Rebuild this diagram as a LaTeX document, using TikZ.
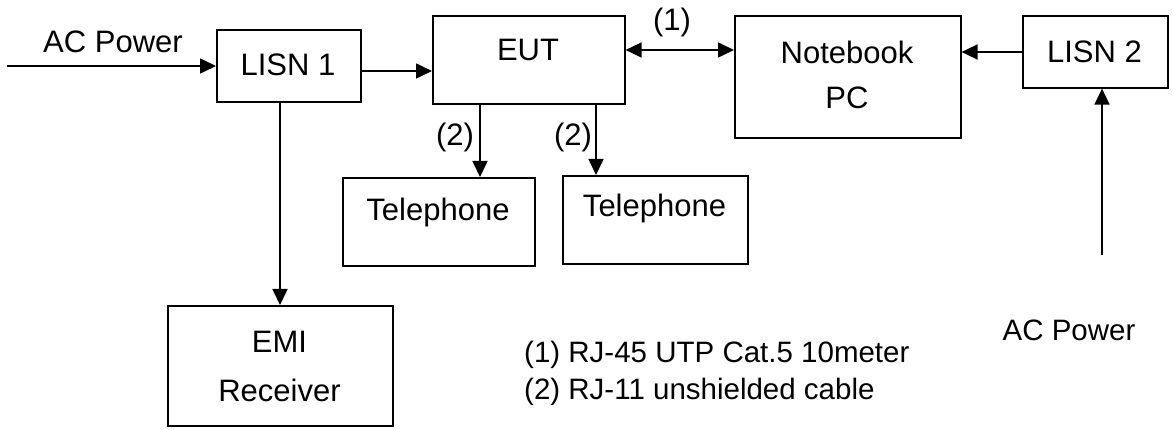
\documentclass[tikz,border=0pt]{standalone}
\usepackage{fontspec}
\setmainfont{Liberation Sans}
\usetikzlibrary{arrows.meta}
\begin{document}
\begin{tikzpicture}[x=1pt,y=-1pt,
  box/.style={draw,line width=1.6pt,inner sep=0pt,anchor=north west},
  txt/.style={font=\fontsize{31}{36}\selectfont,inner sep=0pt},
  small/.style={font=\fontsize{29.5}{34}\selectfont,inner sep=0pt},
  arr/.style={line width=1.6pt,-{Triangle[length=16pt,width=15pt]}},
  darr/.style={line width=1.6pt,{Triangle[length=16pt,width=15pt]}-{Triangle[length=16pt,width=15pt]}}]
\useasboundingbox (0,0) rectangle (1173,430);
% boxes
\node[box,minimum width=144pt,minimum height=72pt] (lisn1) at (216,29) {};
\node[box,minimum width=192pt,minimum height=88pt] (eut) at (432,15) {};
\node[box,minimum width=226pt,minimum height=122pt] (nb) at (734,15) {};
\node[box,minimum width=145pt,minimum height=72pt] (lisn2) at (1022,15) {};
\node[box,minimum width=192pt,minimum height=88pt] (tel1) at (342,177) {};
\node[box,minimum width=185pt,minimum height=88pt] (tel2) at (562,175) {};
\node[box,minimum width=225pt,minimum height=120pt] (emi) at (167,305) {};
% texts
\node[txt] (tl1) at (288,65) {LISN 1};
\node[txt] (teut) at (528,50) {EUT};
\node[txt] (tnb1) at (847,52) {Notebook};
\node[txt] (tnb2) at (847,98) {PC};
\node[txt] (tl2) at (1094.5,52) {LISN 2};
\node[txt] (tt1) at (438,212) {Telephone};
\node[txt] (tt2) at (654.5,208) {Telephone};
\node[txt] (te1) at (279.5,342) {EMI};
\node[txt] (te2) at (279.5,390) {Receiver};
\node[txt] (acl) at (113,42) {AC Power};
\node[small] (acr) at (1069,330) {AC Power};
\node[txt] (one) at (672,22) {(1)};
\node[txt] (two1) at (455,137) {(2)};
\node[txt] (two2) at (573,137) {(2)};
\node[small,anchor=west] (leg1) at (524,355) {(1) RJ-45 UTP Cat.5 10meter};
\node[small,anchor=west] (leg2) at (524,392) {(2) RJ-11 unshielded cable};
% connector helper coordinates
\coordinate (acstart) at (7,66);
\coordinate (acend) at (1102,255);
\coordinate (y71) at (0,71);
\coordinate (y50) at (0,50);
\coordinate (y52) at (0,52);
\coordinate (x480) at (480,0);
\coordinate (x596) at (596,0);
\coordinate (x280) at (280,0);
% connectors
\draw[arr] (acstart) -- (acstart -| lisn1.west);
\draw[arr] (lisn1.east |- y71) -- (eut.west |- y71);
\draw[darr] (eut.east |- y50) -- (nb.west |- y50);
\draw[arr] (lisn2.west |- y52) -- (nb.east |- y52);
\draw[arr] (eut.south -| x480) -- (tel1.north -| x480);
\draw[arr] (eut.south -| x596) -- (tel2.north -| x596);
\draw[arr] (lisn1.south -| x280) -- (emi.north -| x280);
\draw[arr] (acend) -- (acend |- lisn2.south);
\end{tikzpicture}
\end{document}
